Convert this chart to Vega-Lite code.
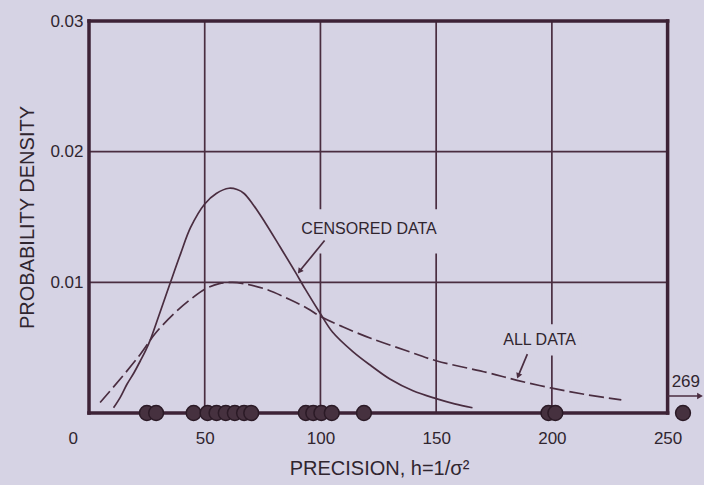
{
  "$schema": "https://vega.github.io/schema/vega-lite/v6.json",
  "autosize": {"type": "none"},
  "padding": {"left": 89, "top": 21, "right": 4, "bottom": 72},
  "width": 611,
  "height": 392,
  "background": "#d6d3e4",
  "datasets": {
    "censored": [
      {"h": 10.6, "density": 0.0004}, {"h": 13.5, "density": 0.0012}, {"h": 16.4, "density": 0.0022},
      {"h": 19.5, "density": 0.0031}, {"h": 22.2, "density": 0.0040}, {"h": 24.5, "density": 0.0048},
      {"h": 26.5, "density": 0.0056}, {"h": 30.1, "density": 0.0074}, {"h": 35.2, "density": 0.0100},
      {"h": 39.6, "density": 0.0122}, {"h": 43.9, "density": 0.0142}, {"h": 50, "density": 0.0160},
      {"h": 55, "density": 0.0168}, {"h": 60.5, "density": 0.0172}, {"h": 64, "density": 0.0171},
      {"h": 67, "density": 0.0168}, {"h": 70.7, "density": 0.0160}, {"h": 76, "density": 0.0146},
      {"h": 82.6, "density": 0.0127}, {"h": 89.1, "density": 0.0108}, {"h": 93.7, "density": 0.0094},
      {"h": 100, "density": 0.0076}, {"h": 105.2, "density": 0.0062}, {"h": 114, "density": 0.0047},
      {"h": 122, "density": 0.0036}, {"h": 130, "density": 0.0026}, {"h": 140, "density": 0.0017},
      {"h": 150, "density": 0.0011}, {"h": 158, "density": 0.0007}, {"h": 165.7, "density": 0.0004}
    ],
    "alldata": [
      {"h": 4.8, "density": 0.0008}, {"h": 13.5, "density": 0.0026}, {"h": 22.2, "density": 0.0045},
      {"h": 28.7, "density": 0.0061}, {"h": 36.7, "density": 0.0076}, {"h": 43.9, "density": 0.0087},
      {"h": 50.3, "density": 0.0095}, {"h": 56.3, "density": 0.0099}, {"h": 62, "density": 0.0100},
      {"h": 66.8, "density": 0.0099}, {"h": 76, "density": 0.0095}, {"h": 86.5, "density": 0.0087},
      {"h": 94.4, "density": 0.0080}, {"h": 100, "density": 0.0074}, {"h": 109.6, "density": 0.0066},
      {"h": 122, "density": 0.0057}, {"h": 136.6, "density": 0.0048}, {"h": 150, "density": 0.0040},
      {"h": 172, "density": 0.0031}, {"h": 185, "density": 0.0025}, {"h": 200, "density": 0.0019},
      {"h": 215, "density": 0.0014}, {"h": 230, "density": 0.0010}
    ],
    "obs": [
      {"h": 25.0, "density": 0}, {"h": 29.0, "density": 0},
      {"h": 45.2, "density": 0}, {"h": 51.2, "density": 0}, {"h": 55.1, "density": 0}, {"h": 59.1, "density": 0},
      {"h": 63.0, "density": 0}, {"h": 67.0, "density": 0}, {"h": 70.1, "density": 0},
      {"h": 93.7, "density": 0}, {"h": 96.9, "density": 0}, {"h": 100.4, "density": 0}, {"h": 104.9, "density": 0},
      {"h": 118.8, "density": 0},
      {"h": 198.5, "density": 0}, {"h": 201.5, "density": 0},
      {"h": 269, "density": 0}
    ],
    "grid": [
      {"h": 50, "h2": 50, "density": 0, "density2": 0.03},
      {"h": 100, "h2": 100, "density": 0, "density2": 0.03},
      {"h": 150, "h2": 150, "density": 0, "density2": 0.03},
      {"h": 200, "h2": 200, "density": 0, "density2": 0.03},
      {"h": 0, "h2": 250, "density": 0.01, "density2": 0.01},
      {"h": 0, "h2": 250, "density": 0.02, "density2": 0.02}
    ],
    "frame": [
      {"h": 0, "h2": 250, "density": 0, "density2": 0},
      {"h": 0, "h2": 250, "density": 0.03, "density2": 0.03},
      {"h": 0, "h2": 0, "density": 0, "density2": 0.03},
      {"h": 250, "h2": 250, "density": 0, "density2": 0.03}
    ],
    "masks": [
      {"h": 97, "h2": 153, "density": 0.0122, "density2": 0.0156},
      {"h": 178, "h2": 213, "density": 0.0044, "density2": 0.0068}
    ],
    "labels": [
      {"h": 121, "density": 0.0141, "text": "CENSORED DATA"},
      {"h": 194.7, "density": 0.0056, "text": "ALL DATA"}
    ],
    "offscale_arrow": [
      {"h": 250, "h2": 269, "density": 0.0013, "density2": 0.0013}
    ],
    "offscale_head": [
      {"h": 269, "density": 0.0013}
    ],
    "offscale_label": [
      {"h": 269, "density": 0.0024, "text": "269"}
    ]
  },
  "encoding": {
    "x": {
      "field": "h", "type": "quantitative",
      "scale": {"domain": [0, 264], "clamp": true, "nice": false, "zero": false},
      "axis": {
        "values": [0, 50, 100, 150, 200, 250],
        "title": "PRECISION, h=1/σ²",
        "grid": false, "domain": false, "ticks": false,
        "labelPadding": 17,
        "labelOffset": {"condition": {"test": "datum.value == 0", "value": -21}, "value": 0},
        "titlePadding": 12,
        "titleX": 290
      }
    },
    "y": {
      "field": "density", "type": "quantitative",
      "scale": {"domain": [0, 0.03], "nice": false},
      "axis": {
        "values": [0.01, 0.02, 0.03], "format": ".2f",
        "title": "PROBABILITY DENSITY",
        "grid": false, "domain": false, "ticks": false,
        "labelPadding": 6, "titlePadding": 12
      }
    }
  },
  "layer": [
    {
      "data": {"name": "grid"},
      "mark": {"type": "rule", "color": "#4a2d40", "strokeWidth": 1.7},
      "encoding": {"x2": {"field": "h2"}, "y2": {"field": "density2"}}
    },
    {
      "data": {"name": "masks"},
      "mark": {"type": "rect", "color": "#d6d3e4", "opacity": 1},
      "encoding": {"x2": {"field": "h2"}, "y2": {"field": "density2"}}
    },
    {
      "data": {"name": "frame"},
      "mark": {"type": "rule", "color": "#3d2236", "strokeWidth": 3.5, "strokeCap": "square"},
      "encoding": {"x2": {"field": "h2"}, "y2": {"field": "density2"}}
    },
    {
      "data": {"name": "censored"},
      "mark": {"type": "line", "color": "#4a2d40", "strokeWidth": 1.7, "interpolate": "catmull-rom"}
    },
    {
      "data": {"name": "alldata"},
      "mark": {"type": "line", "color": "#4a2d40", "strokeWidth": 1.7, "interpolate": "catmull-rom", "strokeDash": [15, 5]}
    },
    {
      "data": {"name": "obs"},
      "transform": [{"filter": "datum.h <= 250"}],
      "mark": {"type": "point", "shape": "circle", "filled": true, "size": 220, "fill": "#46313f", "stroke": "#2b1a26", "strokeWidth": 1.5, "opacity": 1}
    },
    {
      "data": {"name": "obs"},
      "transform": [{"filter": "datum.h > 250"}],
      "mark": {"type": "point", "shape": "circle", "filled": true, "size": 220, "fill": "#46313f", "stroke": "#2b1a26", "strokeWidth": 1.5, "opacity": 1, "xOffset": -17}
    },
    {
      "data": {"name": "offscale_arrow"},
      "mark": {"type": "rule", "color": "#4a2d40", "strokeWidth": 1.7},
      "encoding": {"x2": {"field": "h2"}, "y2": {"field": "density2"}}
    },
    {
      "data": {"name": "offscale_head"},
      "mark": {"type": "point", "shape": "triangle-right", "filled": true, "size": 45, "color": "#4a2d40", "opacity": 1}
    },
    {
      "data": {"name": "offscale_label"},
      "mark": {"type": "text", "align": "right", "baseline": "middle", "font": "Liberation Sans", "fontSize": 17, "color": "#30252f"},
      "encoding": {"text": {"field": "text"}}
    },
    {
      "data": {"name": "labels"},
      "mark": {"type": "text", "align": "center", "baseline": "middle", "font": "Liberation Sans", "fontSize": 16, "color": "#30252f"},
      "encoding": {"text": {"field": "text"}}
    },
    {
      "data": {"values": [{"h": 101.8, "density": 0.0132, "h2": 91.2, "density2": 0.0109}]},
      "mark": {"type": "rule", "color": "#4a2d40", "strokeWidth": 1.7},
      "encoding": {"x2": {"field": "h2"}, "y2": {"field": "density2"}}
    },
    {
      "data": {"values": [{"h": 91.2, "density": 0.0109}]},
      "mark": {"type": "point", "shape": "triangle", "filled": true, "size": 40, "angle": 217, "color": "#4a2d40", "opacity": 1}
    },
    {
      "data": {"values": [{"h": 189.4, "density": 0.0045, "h2": 185.6, "density2": 0.0029}]},
      "mark": {"type": "rule", "color": "#4a2d40", "strokeWidth": 1.7},
      "encoding": {"x2": {"field": "h2"}, "y2": {"field": "density2"}}
    },
    {
      "data": {"values": [{"h": 185.6, "density": 0.0029}]},
      "mark": {"type": "point", "shape": "triangle", "filled": true, "size": 40, "angle": 202, "color": "#4a2d40", "opacity": 1}
    }
  ],
  "config": {
    "view": {"stroke": null},
    "axis": {
      "labelFont": "Liberation Sans", "labelFontSize": 17, "labelColor": "#30252f",
      "titleFont": "Liberation Sans", "titleFontSize": 20, "titleFontWeight": "normal", "titleColor": "#30252f"
    }
  }
}
